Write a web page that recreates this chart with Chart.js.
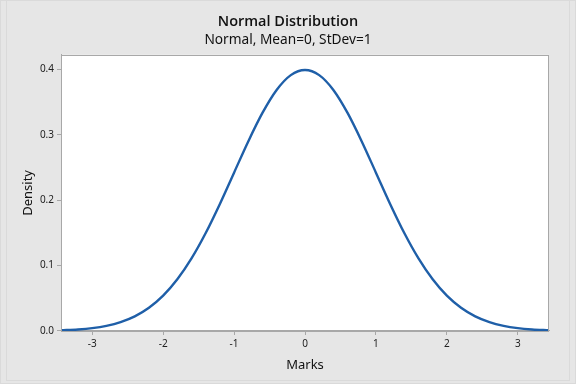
<!DOCTYPE html>
<html>
<head>
<meta charset="utf-8">
<script src="https://cdn.jsdelivr.net/npm/chart.js@4"></script>
<style>
html,body{margin:0;padding:0;background:#e6e6e6;}
canvas{display:block;}
</style>
</head>
<body>
<canvas id="c" width="576" height="384"></canvas>
<script>
// Data
const marks = [-3.44,-3.2,-3.0,-2.8,-2.6,-2.4,-2.2,-2.0,-1.8,-1.6,-1.4,-1.2,-1.0,-0.8,-0.6,-0.4,-0.2,0.0,
               0.2,0.4,0.6,0.8,1.0,1.2,1.4,1.6,1.8,2.0,2.2,2.4,2.6,2.8,3.0,3.2,3.44];
const density = [0.0011,0.0024,0.0044,0.0079,0.0136,0.0224,0.0355,0.0540,0.0790,0.1109,0.1497,0.1942,0.2420,0.2897,0.3332,0.3683,0.3910,0.3989,
                 0.3910,0.3683,0.3332,0.2897,0.2420,0.1942,0.1497,0.1109,0.0790,0.0540,0.0355,0.0224,0.0136,0.0079,0.0044,0.0024,0.0011];
const xTicks = [-3,-2,-1,0,1,2,3];
const yTicks = [0.0,0.1,0.2,0.3,0.4];
const titleText = "Normal Distribution";
const subtitleText = "Normal, Mean=0, StDev=1";
const xTitle = "Marks";
const yTitle = "Density";

const FONT = "'Noto Sans', 'Open Sans', sans-serif";
const TFONT = "'Open Sans', 'Noto Sans', sans-serif";

const framePlugin = {
  id: 'frame',
  beforeDraw(chart) {
    const {ctx, chartArea: a} = chart;
    ctx.save();
    ctx.fillStyle = '#e6e6e6';
    ctx.fillRect(0, 0, chart.width, chart.height);
    ctx.strokeStyle = '#dadada';
    ctx.lineWidth = 1;
    ctx.strokeRect(0.5, 0.5, chart.width - 1, chart.height - 1);
    ctx.strokeRect(6.5, 0.5, chart.width - 13, chart.height - 4);
    ctx.fillStyle = '#ffffff';
    ctx.fillRect(a.left, a.top, a.right - a.left, a.bottom - a.top);
    ctx.restore();
  },
  afterDraw(chart) {
    const {ctx, chartArea: a} = chart;
    ctx.save();
    ctx.strokeStyle = '#a8a8a8';
    ctx.lineWidth = 1;
    ctx.strokeRect(Math.round(a.left) + 0.5, Math.round(a.top) + 0.5,
                   Math.round(a.right - a.left) - 1, Math.round(a.bottom - a.top));
    ctx.restore();
  }
};

new Chart(document.getElementById('c'), {
  type: 'line',
  data: {
    datasets: [{
      data: marks.map((m, i) => ({x: m, y: density[i]})),
      borderColor: '#1f5fa8',
      borderWidth: 2.4,
      pointRadius: 0,
      cubicInterpolationMode: 'monotone',
      fill: false
    }]
  },
  options: {
    responsive: false,
    animation: false,
    layout: {padding: {left: 27, right: 27, top: 0, bottom: 8}},
    plugins: {
      legend: {display: false},
      tooltip: {enabled: false},
      title: {
        display: true, text: titleText, color: '#111',
        font: {family: TFONT, size: 14.5, weight: 600, lineHeight: 1.2},
        padding: {top: 13, bottom: 0}
      },
      subtitle: {
        display: true, text: subtitleText, color: '#111',
        font: {family: FONT, size: 13.7, weight: 'normal', lineHeight: 1.2},
        padding: {top: 1, bottom: 7}
      }
    },
    scales: {
      x: {
        type: 'linear',
        min: -3.44, max: 3.44,
        afterBuildTicks(s) { s.ticks = xTicks.map(v => ({value: v})); },
        afterFit(s) { s.height = 45; },
        grid: {drawOnChartArea: false, drawTicks: true, tickLength: 4, color: '#a8a8a8'},
        border: {display: true, color: '#a8a8a8'},
        ticks: {color: '#222', padding: 3, font: {family: FONT, size: 10}, callback: v => String(v)},
        title: {display: true, text: xTitle, color: '#111', font: {family: FONT, size: 13}, padding: {top: 0, bottom: 3}}
      },
      y: {
        type: 'linear',
        min: 0, max: 0.422,
        afterBuildTicks(s) { s.ticks = yTicks.map(v => ({value: v})); },
        afterFit(s) { s.width = 34; },
        grid: {drawOnChartArea: false, drawTicks: true, tickLength: 4, color: '#a8a8a8'},
        border: {display: true, color: '#a8a8a8'},
        ticks: {color: '#222', padding: 3, font: {family: FONT, size: 10}, callback: v => Number(v).toFixed(1)},
        title: {display: true, text: yTitle, color: '#111', font: {family: FONT, size: 13}, padding: {top: -7, bottom: 0}}
      }
    }
  },
  plugins: [framePlugin]
});
</script>
</body>
</html>
